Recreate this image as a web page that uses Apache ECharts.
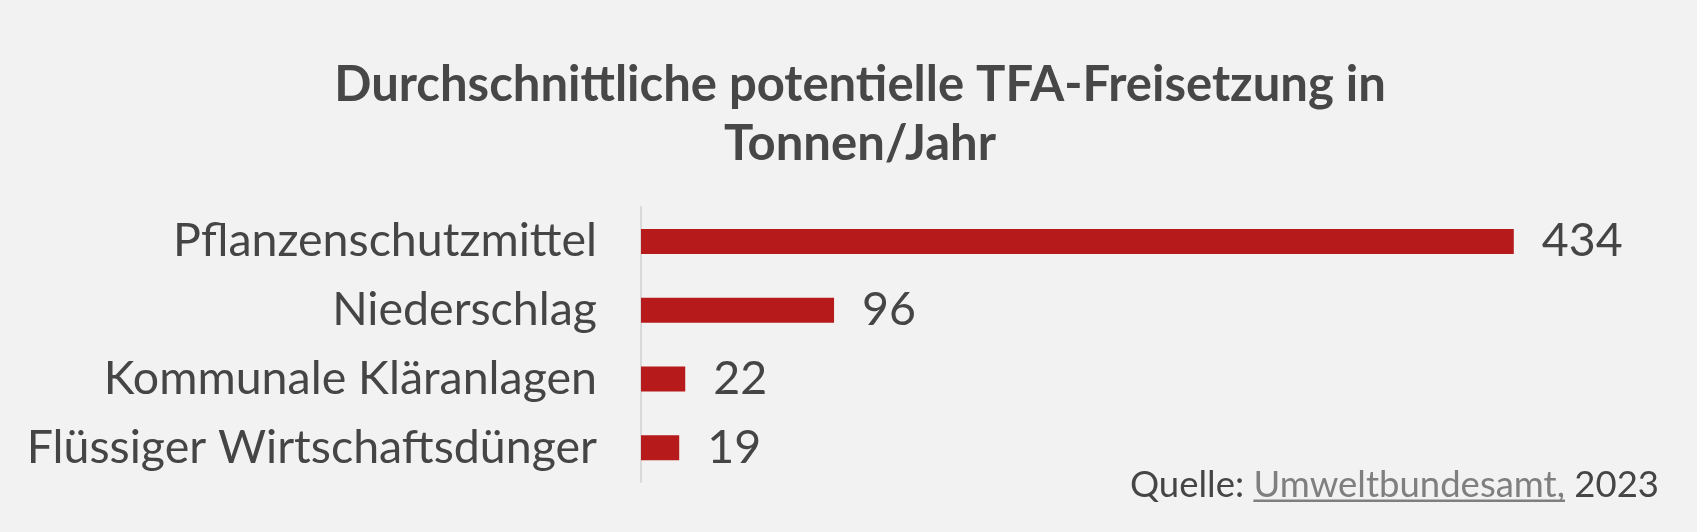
<!DOCTYPE html>
<html>
<head>
<meta charset="utf-8">
<script src="https://cdn.jsdelivr.net/npm/echarts@6/dist/echarts.min.js"></script>
<style>
html,body{margin:0;padding:0;background:#f2f2f2;}
#chart{width:1697px;height:532px;}
</style>
</head>
<body>
<div id="chart"></div>
<script>
const titleLines = ['Durchschnittliche potentielle TFA-Freisetzung in', 'Tonnen/Jahr'];
const categories = ['Pflanzenschutzmittel', 'Niederschlag', 'Kommunale Kläranlagen', 'Flüssiger Wirtschaftsdünger'];
const values = [434, 96, 22, 19];
const sourcePrefix = 'Quelle: ';
const sourceLink = 'Umweltbundesamt,';
const sourceSuffix = ' 2023';

const FONT = 'Lato';
const textColor = '#454545';

function measure(txt, font) {
  const c = document.createElement('canvas').getContext('2d');
  c.font = font;
  return c.measureText(txt).width;
}

const chart = echarts.init(document.getElementById('chart'), null, {renderer: 'canvas'});

const srcSize = 36.5;
const srcFont = srcSize + 'px ' + FONT;
const srcRight = 1659;
const wSuffix = measure(sourceSuffix, srcFont);
const wLink = measure(sourceLink, srcFont);

const option = {
  backgroundColor: '#f2f2f2',
  animation: false,
  grid: {left: 641, top: 207, height: 275, right: 1697 - 641 - 1005.5, containLabel: false},
  xAxis: {type: 'value', min: 0, max: 500, show: false},
  yAxis: {
    type: 'category',
    data: categories,
    inverse: true,
    axisLine: {show: true, lineStyle: {color: '#d9d9d9', width: 2}},
    axisTick: {show: false},
    axisLabel: {fontFamily: FONT, fontSize: 46.5, color: textColor, margin: 44}
  },
  series: [{
    type: 'bar',
    data: values,
    barWidth: 25,
    itemStyle: {color: '#b61a1b'},
    label: {show: true, position: 'right', distance: 28, fontFamily: FONT, fontSize: 46.5, color: textColor}
  }],
  graphic: [
    {
      type: 'text', x: 860, y: 56, silent: true,
      style: {
        text: titleLines.join('\n'),
        font: 'bold 49px ' + FONT,
        fill: '#474747',
        textAlign: 'center',
        textVerticalAlign: 'top',
        lineHeight: 58.5
      }
    },
    {
      type: 'text', x: srcRight, y: 485, silent: true,
      style: {
        text: '{a|' + sourcePrefix + '}{b|' + sourceLink + '}{a|' + sourceSuffix + '}',
        textAlign: 'right',
        textVerticalAlign: 'middle',
        fill: textColor,
        rich: {
          a: {fontFamily: FONT, fontSize: srcSize, fill: textColor, color: textColor},
          b: {fontFamily: FONT, fontSize: srcSize, fill: '#7f7f7f', color: '#7f7f7f'}
        }
      }
    },
    {
      type: 'rect', silent: true,
      shape: {x: srcRight - wSuffix - wLink, y: 499.5, width: wLink, height: 2.5},
      style: {fill: '#7f7f7f'}
    }
  ]
};
chart.setOption(option);
</script>
</body>
</html>
